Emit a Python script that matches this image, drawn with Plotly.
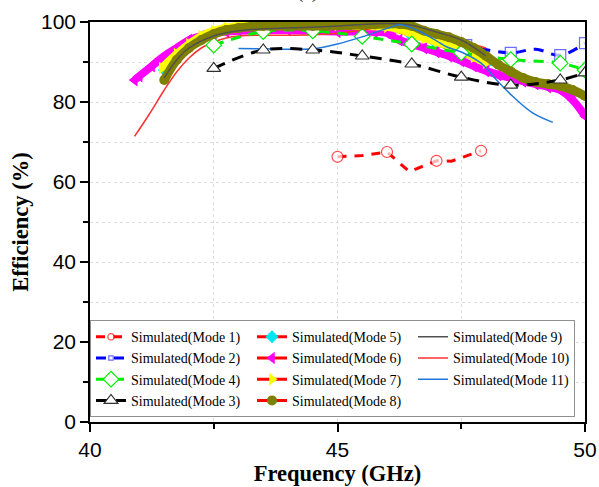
import plotly.graph_objects as go

# ---------------- data ----------------
m1_x = [45.0, 45.5, 46.0, 46.45, 47.0, 47.3, 47.9]
m1_y = [66.3, 66.6, 67.5, 62.6, 65.3, 65.2, 67.8]
m1_mk = [11, 0, 11, 0, 11, 0, 11]

m2_x = [42.5, 43.5, 44.5, 45.5, 46.5, 47.6, 48.5, 49.0, 49.5, 50.0]
m2_y = [97.5, 98.5, 98.5, 98.7, 98.5, 94.2, 92.3, 93.2, 91.7, 94.7]
m2_mk = [0, 0, 0, 0, 0, 11, 11, 0, 11, 11]

m4_x = [42.5, 43.5, 44.5, 45.5, 46.5, 47.5, 48.5, 49.5, 50.0]
m4_y = [94.2, 97.6, 97.8, 96.4, 94.5, 92.3, 90.6, 89.7, 88.0]

m3_x = [42.5, 43.5, 44.5, 45.5, 46.5, 47.5, 48.5, 49.5, 50.0]
m3_y = [88.4, 93.0, 93.0, 91.5, 89.5, 86.2, 84.2, 85.5, 87.3]

m5_x = [41.5, 42.0, 42.5, 43.0, 44.0, 45.0, 46.0, 46.5, 47.0, 47.5, 48.0]
m5_y = [88.0, 94.0, 97.0, 98.5, 98.8, 98.8, 98.5, 96.5, 94.5, 92.0, 89.5]

m6_x = [40.9, 41.0, 41.25, 41.5, 41.75, 42.0, 42.25, 42.5, 42.75, 43.0, 43.5,
        44.0, 44.5, 45.0, 45.5, 45.75, 46.0, 46.25, 46.5, 46.75, 47.0, 47.25,
        47.5, 47.75, 48.0, 48.25, 48.5, 48.75, 49.0, 49.25, 49.5, 49.75, 50.0]
m6_y = [85.5, 86.5, 89.0, 91.5, 93.5, 95.5, 96.5, 97.2, 97.6, 97.8, 98.0,
        98.0, 97.8, 97.6, 97.6, 97.5, 97.3, 95.5, 94.5, 93.5, 92.5, 91.5,
        90.3, 89.0, 87.8, 86.8, 86.0, 85.2, 84.5, 83.8, 83.0, 80.5, 76.5]

m7_x = [41.45, 41.75, 42.0, 42.25, 42.5, 42.75, 43.0, 43.5, 44.0, 44.5, 45.0,
        45.5, 46.0, 46.25, 46.5, 46.75, 47.0, 47.25, 47.5, 47.75, 48.0]
m7_y = [88.5, 92.0, 94.5, 96.5, 97.8, 98.6, 99.0, 99.2, 99.2, 99.2, 99.2,
        99.0, 98.8, 98.2, 97.0, 96.0, 95.0, 94.0, 92.8, 91.3, 89.8]

m8_x = [41.5, 41.75, 42.0, 42.25, 42.5, 42.75, 43.0, 43.25, 43.5, 43.75, 44.0,
        44.25, 44.5, 44.75, 45.0, 45.25, 45.5, 45.75, 46.0, 46.25, 46.5, 46.75,
        47.0, 47.25, 47.5, 47.75, 48.0, 48.25, 48.5, 48.75, 49.0, 49.25, 49.5,
        49.75, 50.0]
m8_y = [85.5, 90.5, 93.5, 95.5, 97.0, 98.0, 98.5, 98.8, 99.0, 99.0, 99.0,
        99.0, 99.0, 99.0, 99.1, 99.2, 99.3, 99.4, 99.5, 99.5, 99.0, 97.8,
        97.0, 96.2, 95.0, 93.5, 91.5, 89.3, 87.6, 86.0, 85.0, 84.5, 84.0,
        83.0, 81.5]

m9_x = [41.5, 41.75, 42.0, 42.5, 43.0, 43.5, 44.0, 44.5, 45.0, 45.5, 46.0,
        46.5, 47.0, 47.5, 48.0]
m9_y = [86.0, 90.5, 93.5, 96.5, 97.8, 98.3, 98.5, 98.7, 99.0, 99.4, 99.6,
        99.2, 97.5, 95.5, 91.5]

m10_x = [40.9, 41.2, 41.5, 41.75, 42.0, 42.25, 42.5, 42.75, 43.0, 43.5, 44.0,
         44.5, 45.0, 45.5, 46.0, 46.3, 46.6, 47.0, 47.5, 48.0]
m10_y = [71.4, 77.0, 83.0, 87.5, 91.0, 93.5, 95.0, 96.0, 96.5, 96.7, 96.7,
         96.8, 97.2, 98.0, 99.0, 99.4, 99.3, 97.5, 95.3, 93.5]

m11_x = [43.0, 43.5, 44.0, 44.5, 45.0, 45.5, 46.0, 46.26, 46.6, 47.0, 47.2,
         47.5, 47.9, 48.25, 48.55, 48.95, 49.35]
m11_y = [93.4, 93.3, 93.2, 93.3, 94.5, 96.3, 98.4, 99.3, 98.0, 95.3, 93.8,
         92.5, 89.7, 85.0, 81.3, 77.2, 74.9]

xticks = [40, 45, 50]
yticks = [0, 20, 40, 60, 80, 100]

# ---------------- figure ----------------
SERIF = "Liberation Serif"
fig = go.Figure()

def band(x, y, color, width):
    fig.add_trace(go.Scatter(x=x, y=y, mode="lines", showlegend=False,
                             hoverinfo="skip",
                             line=dict(color=color, width=width, shape="spline")))

# Mode 2 blue (mostly hidden on the left)
fig.add_trace(go.Scatter(x=m2_x, y=m2_y, name="Simulated(Mode 2)",
                         mode="lines+markers",
                         line=dict(color="#0000ff", width=3, dash="10px,8px", shape="spline"),
                         marker=dict(symbol="square", size=m2_mk, color="white",
                                     line=dict(color="#3030ff", width=1.2))))
# Mode 5 (hidden under others)
fig.add_trace(go.Scatter(x=m5_x, y=m5_y, name="Simulated(Mode 5)",
                         mode="lines+markers", line=dict(color="red", width=3),
                         marker=dict(symbol="diamond", size=10, color="#00e5ee")))
# Mode 6 magenta
fig.add_trace(go.Scatter(x=m6_x, y=m6_y, name="Simulated(Mode 6)",
                         mode="lines+markers", line=dict(color="red", width=3, shape="spline"),
                         marker=dict(symbol="triangle-left", size=11, color="#ff00ff")))
band(m6_x, m6_y, "#ff00ff", 8)
fig.add_trace(go.Scatter(x=m6_x, y=m6_y, mode="markers", showlegend=False, hoverinfo="skip",
                         marker=dict(symbol="triangle-left", size=11, color="#ff00ff")))
# Mode 7 yellow
fig.add_trace(go.Scatter(x=m7_x, y=m7_y, name="Simulated(Mode 7)",
                         mode="lines+markers", line=dict(color="red", width=3, shape="spline"),
                         marker=dict(symbol="triangle-right", size=11, color="#ffff00")))
band(m7_x, m7_y, "#ffff00", 8)
# Mode 10 red thin
fig.add_trace(go.Scatter(x=m10_x, y=m10_y, name="Simulated(Mode 10)",
                         mode="lines", line=dict(color="#ff3030", width=1.5, shape="spline")))
# Mode 4 green
fig.add_trace(go.Scatter(x=m4_x, y=m4_y, name="Simulated(Mode 4)",
                         mode="lines+markers",
                         line=dict(color="#00ee00", width=3, dash="10px,8px", shape="spline"),
                         marker=dict(symbol="diamond", size=12, color="white",
                                     line=dict(color="#00ee00", width=1.2))))
# Mode 8 olive
fig.add_trace(go.Scatter(x=m8_x, y=m8_y, name="Simulated(Mode 8)",
                         mode="lines+markers", line=dict(color="red", width=3, shape="spline"),
                         marker=dict(symbol="circle", size=10, color="#808000")))
band(m8_x, m8_y, "#808000", 9)
# Mode 9 gray thin
fig.add_trace(go.Scatter(x=m9_x, y=m9_y, name="Simulated(Mode 9)",
                         mode="lines", line=dict(color="#505050", width=1.5, shape="spline")))
# Mode 11 blue thin
fig.add_trace(go.Scatter(x=m11_x, y=m11_y, name="Simulated(Mode 11)",
                         mode="lines", line=dict(color="#1e78dc", width=1.5, shape="spline")))
# Mode 3 black
fig.add_trace(go.Scatter(x=m3_x, y=m3_y, name="Simulated(Mode 3)",
                         mode="lines+markers",
                         line=dict(color="black", width=3, dash="12px,8px", shape="spline"),
                         marker=dict(symbol="triangle-up", size=12, color="white",
                                     line=dict(color="#303030", width=1.2))))
# Mode 1 red
fig.add_trace(go.Scatter(x=m1_x, y=m1_y, name="Simulated(Mode 1)",
                         mode="lines+markers",
                         line=dict(color="red", width=3, dash="9px,8px"),
                         marker=dict(symbol="circle", size=m1_mk, color="white",
                                     line=dict(color="red", width=1.2))))

# legend order (column-major as in reference)
order = {"Simulated(Mode 1)": 1, "Simulated(Mode 5)": 2, "Simulated(Mode 9)": 3,
         "Simulated(Mode 2)": 4, "Simulated(Mode 6)": 5, "Simulated(Mode 10)": 6,
         "Simulated(Mode 4)": 7, "Simulated(Mode 7)": 8, "Simulated(Mode 11)": 9,
         "Simulated(Mode 3)": 10, "Simulated(Mode 8)": 11}
for tr in fig.data:
    if tr.name in order:
        tr.legendrank = order[tr.name]

axis_common = dict(showline=True, linecolor="black", linewidth=1.5, mirror=True,
                   ticks="outside", ticklen=8, tickwidth=1.5, tickcolor="black",
                   showgrid=False, zeroline=False, automargin=False,
                   tickfont=dict(family="Liberation Sans", size=21, color="black"))

fig.update_xaxes(range=[40, 50], tickvals=xticks, **axis_common,
                 minor=dict(dtick=2.5, ticks="outside", ticklen=5, tickcolor="black",
                            showgrid=True, gridcolor="#dcdcdc", griddash="dot", gridwidth=1),
                 title=dict(text="<b>Frequency (GHz)</b>", standoff=4,
                            font=dict(family=SERIF, size=22.5, color="black")))
fig.update_yaxes(range=[0, 100], tickvals=yticks, **axis_common,
                 minor=dict(dtick=10, ticks="outside", ticklen=5, tickcolor="black",
                            showgrid=True, gridcolor="#dcdcdc", griddash="dot", gridwidth=1),
                 title=dict(text="<b>Efficiency (%)</b>", standoff=6,
                            font=dict(family=SERIF, size=22.5, color="black")))

fig.add_annotation(text="(a)", xref="paper", yref="paper", x=0.44, y=1.043,
                   yanchor="bottom", showarrow=False,
                   font=dict(family=SERIF, size=19, color="black"))

fig.update_layout(
    width=599, height=487,
    margin=dict(l=90, r=14, t=22, b=65),
    paper_bgcolor="white", plot_bgcolor="white",
    legend=dict(orientation="h", x=0.0, y=0.012, xanchor="left", yanchor="bottom",
                bgcolor="white", bordercolor="#909090", borderwidth=1,
                entrywidth=116, entrywidthmode="pixels", traceorder="normal",
                font=dict(family=SERIF, size=14, color="black"),
                itemwidth=30, tracegroupgap=0),
    showlegend=True,
)

fig.write_html("out.html")
